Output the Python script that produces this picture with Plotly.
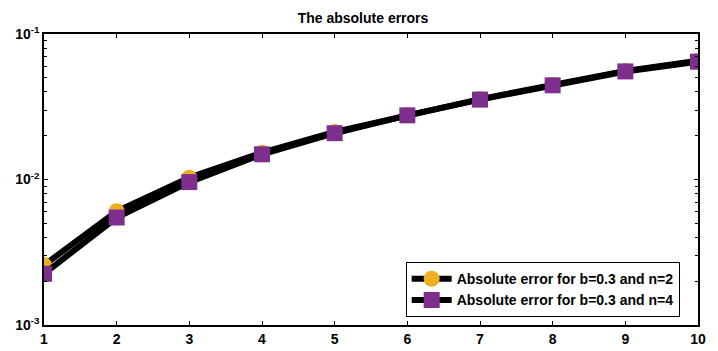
import plotly.graph_objects as go

x_vals = [1, 2, 3, 4, 5, 6, 7, 8, 9, 10]
err_n2 = [0.00258, 0.00605, 0.0103, 0.0153, 0.0212, 0.0278, 0.0357, 0.0447, 0.0557, 0.0655]
err_n4 = [0.00225, 0.00548, 0.0096, 0.0149, 0.0208, 0.0276, 0.0354, 0.0444, 0.0553, 0.0645]
y_tick_vals = [0.001, 0.01, 0.1]
y_tick_text = ["10<sup>-3</sup>", "10<sup>-2</sup>", "10<sup>-1</sup>"]
y_minor_vals = [m * d for d in (0.001, 0.01) for m in range(2, 10)]

FAM = "Liberation Sans, Arial, sans-serif"

fig = go.Figure()
fig.add_trace(go.Scatter(
    x=x_vals, y=err_n2, mode="lines+markers",
    name="<b>Absolute error for b=0.3 and n=2</b>",
    line=dict(color="black", width=6),
    marker=dict(symbol="circle", size=16, color="#EDB120", line=dict(width=0)),
))
fig.add_trace(go.Scatter(
    x=x_vals, y=err_n4, mode="lines+markers",
    name="<b>Absolute error for b=0.3 and n=4</b>",
    line=dict(color="black", width=6),
    marker=dict(symbol="square", size=16, color="#7E2F8E", line=dict(width=0)),
))

axis_common = dict(showline=True, linecolor="black", linewidth=1.5, mirror="ticks",
                   ticks="inside", tickcolor="black", showgrid=False, zeroline=False,
                   automargin=False,
                   tickfont=dict(family=FAM, size=14, color="black"))

fig.update_xaxes(range=[1, 10], tickvals=x_vals,
                 ticktext=[f"<b>{v}</b>" for v in x_vals], ticklen=4, **axis_common)
fig.update_yaxes(type="log", range=[-3, -1], tickvals=y_tick_vals,
                 ticktext=[f"<b>{t}</b>" for t in y_tick_text], ticklen=4,
                 minor=dict(tickvals=y_minor_vals, ticks="inside", ticklen=3,
                            tickcolor="black", showgrid=False),
                 **axis_common)

# page body has an 8px margin: size and margins compensate for it
fig.update_layout(
    width=710, height=343,
    margin=dict(l=36, r=20, t=26, b=26),
    paper_bgcolor="white", plot_bgcolor="white",
    font=dict(family=FAM, size=12, color="black"),
    title=dict(text="<b>The absolute errors</b>", x=0.5, xanchor="center",
               y=0.97, yanchor="middle", font=dict(size=14, family=FAM, color="black")),
    legend=dict(x=0.972, xanchor="right", y=0.027, yanchor="bottom",
                bgcolor="white", bordercolor="black", borderwidth=1,
                font=dict(size=14, family=FAM, color="black"),
                tracegroupgap=0, itemwidth=40),
    showlegend=True,
)

fig.write_html("out.html")
